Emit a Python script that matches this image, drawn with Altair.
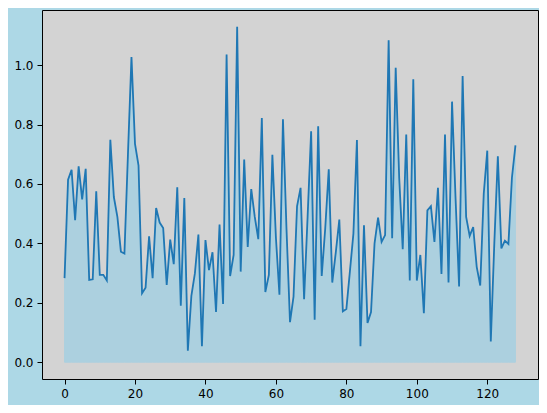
import altair as alt
import pandas as pd

x_vals = list(range(129))
y_vals = [
    0.283, 0.614, 0.648, 0.478, 0.659, 0.548, 0.651, 0.277, 0.279, 0.575,
    0.294, 0.294, 0.275, 0.749, 0.556, 0.489, 0.372, 0.366, 0.700, 1.027,
    0.735, 0.662, 0.232, 0.251, 0.424, 0.283, 0.519, 0.470, 0.452, 0.260,
    0.413, 0.330, 0.589, 0.190, 0.553, 0.039, 0.223, 0.299, 0.430, 0.054,
    0.411, 0.310, 0.370, 0.169, 0.463, 0.196, 1.036, 0.290, 0.361, 1.129,
    0.305, 0.682, 0.388, 0.583, 0.489, 0.414, 0.822, 0.236, 0.294, 0.698,
    0.420, 0.227, 0.818, 0.450, 0.135, 0.221, 0.525, 0.587, 0.212, 0.490,
    0.777, 0.143, 0.794, 0.290, 0.450, 0.649, 0.268, 0.370, 0.480, 0.171,
    0.179, 0.305, 0.433, 0.748, 0.054, 0.461, 0.132, 0.169, 0.400, 0.487,
    0.405, 0.428, 1.084, 0.417, 0.991, 0.620, 0.380, 0.766, 0.275, 0.952,
    0.275, 0.361, 0.165, 0.511, 0.525, 0.405, 0.587, 0.297, 0.766, 0.268,
    0.877, 0.550, 0.255, 0.963, 0.489, 0.425, 0.455, 0.321, 0.258, 0.567,
    0.712, 0.070, 0.400, 0.693, 0.383, 0.409, 0.398, 0.621, 0.730,
]
x_ticks = [0, 20, 40, 60, 80, 100, 120]
y_ticks = [0.0, 0.2, 0.4, 0.6, 0.8, 1.0]

df = pd.DataFrame({"x": x_vals, "y": y_vals})

xscale = alt.Scale(domain=[-6.4, 134.4], nice=False, zero=False)
yscale = alt.Scale(domain=[-0.0565, 1.1855], nice=False, zero=False)

common = dict(
    title=None, grid=False, domain=False, tickColor="black", tickSize=5,
    tickWidth=1, labelPadding=4, labelFontSize=12, labelColor="black",
    labelFont="DejaVu Sans", labelFlush=False, labelOverlap=False,
)
xaxis = alt.Axis(values=x_ticks, format="d", **common)
yaxis = alt.Axis(values=y_ticks, format=".1f", **common)

base = alt.Chart(df)
area = base.mark_area(
    color="skyblue", opacity=0.5, stroke="skyblue", strokeWidth=1
).encode(
    x=alt.X("x:Q", scale=xscale, axis=xaxis),
    y=alt.Y("y:Q", scale=yscale, axis=yaxis),
    y2=alt.datum(0),
)
line = base.mark_line(color="#1f77b4", strokeWidth=1.8).encode(
    x=alt.X("x:Q", scale=xscale),
    y=alt.Y("y:Q", scale=yscale),
)

chart = (
    alt.layer(area, line)
    .properties(
        width=496,
        height=369,
        background="#add8e6",
        padding={"left": 34, "top": 2, "right": 1, "bottom": 26},
        autosize=alt.AutoSizeParams(type="none"),
    )
    .configure_view(fill="#d3d3d3", stroke="black", strokeWidth=1)
)

chart.save("out.html", embed_options={"renderer": "svg", "actions": False})
